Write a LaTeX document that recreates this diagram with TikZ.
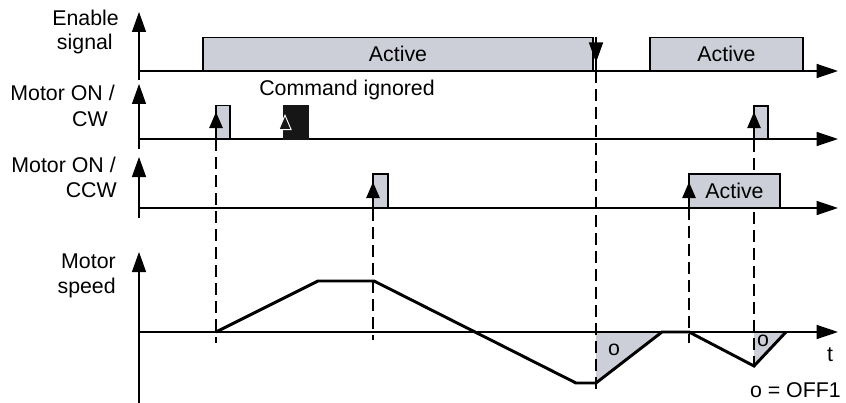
\documentclass[tikz,border=0pt]{standalone}
\usepackage{fontspec}
\setmainfont{Liberation Sans}
\usetikzlibrary{arrows.meta}
\definecolor{actgray}{RGB}{205,207,216}
\definecolor{ignblack}{RGB}{22,22,22}
\begin{document}
\begin{tikzpicture}[x=0.75pt,y=-0.75pt,
  yax/.style={line width=1.1pt,-{Triangle[length=15pt,width=10.5pt]}},
  xax/.style={line width=1.1pt,-{Triangle[length=16pt,width=10.5pt]}},
  pulse/.style={draw,fill=actgray,line width=1.1pt},
  trig/.style={line width=1.1pt,-{Triangle[length=12pt,width=10pt]}},
  dsh/.style={line width=1.1pt,dash pattern=on 9pt off 4.5pt},
  lbl/.style={font=\fontsize{16pt}{19pt}\selectfont,inner sep=0pt},
  speedline/.style={line width=2.2pt,line join=miter}]
\useasboundingbox (0,0) rectangle (846,403);

% key coordinates
\coordinate (s0) at (216,332);
\coordinate (s1) at (318,281);
\coordinate (s2) at (374,281);
\coordinate (s3) at (576,383);
\coordinate (s4) at (596,383);
\coordinate (s5) at (662,332);
\coordinate (s6) at (689,332);
\coordinate (s7) at (754,366);
\coordinate (s8) at (786,332);

% OFF1 triangles
\fill[actgray] (596,332) -- (s4) -- (s5) -- cycle;
\fill[actgray] (754,332) -- (s7) -- (s8) -- cycle;

% dashed lines
\draw[dsh] (216,139) -- (216,343);
\draw[dsh] (373,209) -- (373,340);
\draw[dsh] (596,71) -- (596,395);
\draw[dsh] (689,208) -- (689,343);
\draw[dsh] (754,140) -- (754,366);

% axes
\draw[yax] (139,80) -- (139,12);
\draw[xax] (139,71) -- (838,71);
\draw[yax] (139,149) -- (139,84);
\draw[xax] (139,139) -- (838,139);
\draw[yax] (139,218) -- (139,157);
\draw[xax] (139,208) -- (838,208);
\draw[yax] (139,403) -- (139,252);
\draw[xax] (139,332) -- (838,332);

% enable signal
\draw[pulse] (203,71) rectangle node[lbl] (act1) {Active} (593,37.5);
\draw[pulse] (650,71) rectangle node[lbl] (act2) {Active} (803,37.5);
\draw[line width=1.1pt] (596,37.5) -- (596,71);
\draw[line width=1.1pt,-{Triangle[length=15pt,width=10.5pt]}] (596,40) -- (596,62.5);

% CW pulses
\draw[pulse] (216,139) rectangle (230,105.5);
\draw[trig] (216,139) -- (216,112);
\fill[ignblack] (283,139.5) rectangle (309,105);
\draw[line width=1.1pt,ignblack,-{Triangle[length=12pt,width=10pt,color=white,fill=ignblack,line width=0.7pt]}] (285,139) -- (285,114);
\draw[pulse] (754,139) rectangle (768,106);
\draw[trig] (754,139) -- (754,112);

% CCW pulses
\draw[pulse] (373,208) rectangle (388,174);
\draw[trig] (373,208) -- (373,182);
\draw[pulse] (689,208) rectangle node[lbl] (act3) {Active} (780,174);
\draw[trig] (689,208) -- (689,182);

% speed
\draw[speedline] (s0) -- (s1) -- (s2) -- (s3) -- (s4) -- (s5) -- (s6) -- (s7) -- (s8);

% labels
\node[lbl,anchor=base east] (l1) at (119,26) {Enable};
\node[lbl,anchor=base east] (l2) at (113,50) {signal};
\node[lbl,anchor=base east] (l3) at (115,100) {Motor ON /};
\node[lbl,anchor=base east] (l4) at (108,127) {CW};
\node[lbl,anchor=base east] (l5) at (116,172) {Motor ON /};
\node[lbl,anchor=base east] (l6) at (117,197) {CCW};
\node[lbl,anchor=base east] (l7) at (116,268) {Motor};
\node[lbl,anchor=base east] (l8) at (116,293) {speed};
\node[lbl,anchor=base west] (cmd) at (259,95) {Command ignored};
\node[lbl] (o1) at (614,350) {o};
\node[lbl] (o2) at (763,341) {o};
\node[lbl] (tl) at (830,355) {t};
\node[lbl,anchor=base east] (off) at (841,397) {o = OFF1};
\end{tikzpicture}
\end{document}
